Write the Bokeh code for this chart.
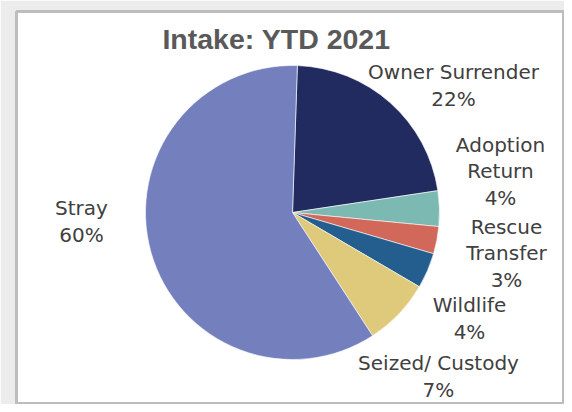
import numpy as np
from bokeh.plotting import figure
from bokeh.models import Range1d
from bokeh.core.properties import value
from bokeh.embed import file_html
from bokeh.resources import INLINE

# ---- data (clockwise from the top) ----
categories = ["Owner Surrender", "Adoption Return", "Rescue Transfer", "Wildlife", "Seized/ Custody", "Stray"]
label_names = ["Owner Surrender", "Adoption\nReturn", "Rescue\nTransfer", "Wildlife", "Seized/ Custody", "Stray"]
values = [22.1, 3.9, 3.0, 3.9, 7.4, 59.7]
title_text = "Intake: YTD 2021"

# ---- styles / layout ----
colors = ["#222B60", "#7CB9B2", "#D1685A", "#245E8E", "#DFC97A", "#7480BE"]
# label block centres in picture pixels
label_pos_px = [(453, 85), (500, 171), (506, 253), (469, 318), (438, 376), (81, 221)]
first_slice_deg = 1.9

W, H = 564, 404
left_b, right_b, top_b, bottom_b = 16, 0, 11, 0
fw, fh = W - left_b - right_b, H - top_b - bottom_b


def to_data(px, py):
    return px - left_b, (H - bottom_b) - py


p = figure(width=W, height=H, output_backend="svg", toolbar_location=None,
           x_range=Range1d(0, fw), y_range=Range1d(0, fh),
           x_axis_type=None, y_axis_type=None,
           min_border_left=left_b, min_border_right=right_b,
           min_border_top=top_b, min_border_bottom=bottom_b)
p.grid.visible = False
p.background_fill_color = "white"
p.border_fill_color = "#ececec"
p.outline_line_color = "#bdbdbd"
p.outline_line_width = 3

cx, cy = to_data(292, 212)
r = 147

vals = np.array(values, dtype=float)
frac = vals / vals.sum()
cum = np.concatenate([[0.0], np.cumsum(frac)]) * 360.0 + first_slice_deg
theta1, theta2 = cum[:-1], cum[1:]
start = np.deg2rad(90.0 - theta2)
end = np.deg2rad(90.0 - theta1)

p.wedge(x=cx, y=cy, radius=r, start_angle=start, end_angle=end,
        fill_color=colors, line_color="white", line_width=0.6)

# labels
pct = [f"{int(round(f * 100))}%" for f in frac]
texts = [f"{n}\n{q}" for n, q in zip(label_names, pct)]
lx, ly = zip(*[to_data(a, b) for a, b in label_pos_px])
p.text(x=list(lx), y=list(ly), text=texts, text_align="center", text_baseline="middle",
       text_font=value("DejaVu Sans"), text_font_size="20px", text_color="#404040",
       text_line_height=1.09)

tx, ty = to_data(276, 38)
p.text(x=[tx], y=[ty], text=[title_text], text_align="center", text_baseline="middle",
       text_font=value("Liberation Sans"), text_font_style="bold",
       text_font_size="28.5px", text_color="#595959")

open("out.html", "w").write(file_html(p, INLINE))
